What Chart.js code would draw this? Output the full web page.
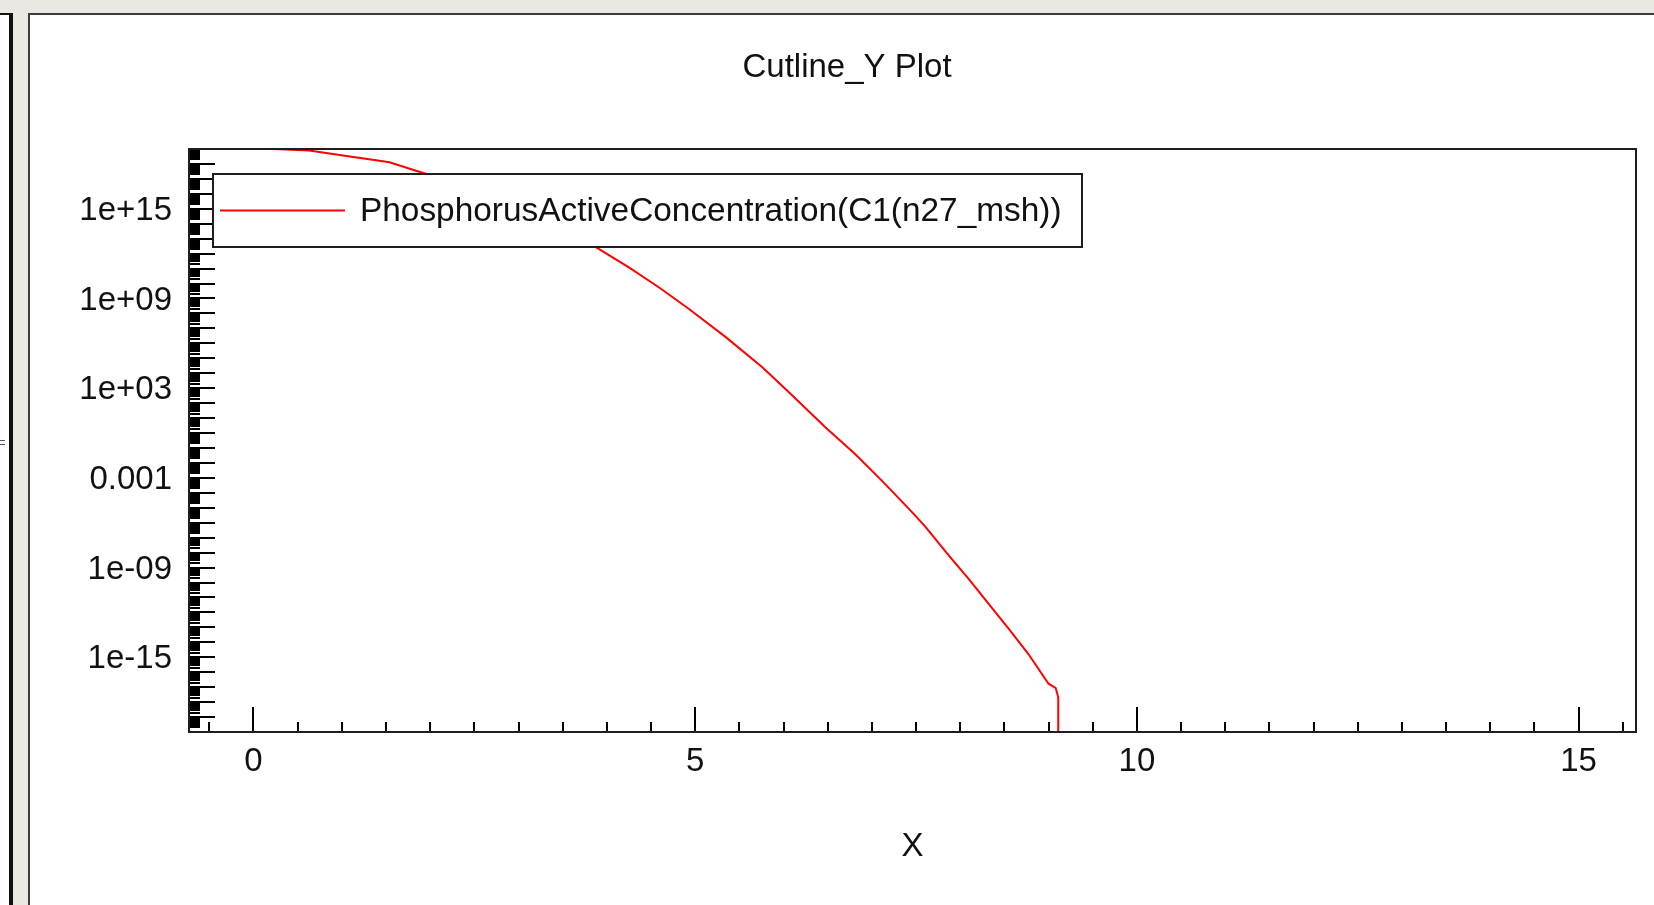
<!DOCTYPE html>
<html>
<head>
<meta charset="utf-8">
<title>Cutline_Y Plot</title>
<script src="https://cdn.jsdelivr.net/npm/chart.js@4/dist/chart.umd.min.js"></script>
<style>
  html, body { margin: 0; padding: 0; }
  body { width: 1654px; height: 905px; background: #ebe8e3; position: relative; overflow: hidden; }
  #side { position: absolute; left: -2px; top: 13px; width: 11px; height: 900px; background: #fff;
          border-top: 2px solid #111; border-right: 4px solid #111; }
  #side .nick { position: absolute; left: 2px; width: 5px; height: 1px; background: #555; }
  #panel { position: absolute; left: 28px; top: 13px; width: 1624px; height: 890px; background: #fff;
           border-left: 2px solid #3c3c3c; border-top: 2px solid #3c3c3c; }
  #chart { display: block; }
</style>
</head>
<body>
<div id="side"><div class="nick" style="top:425px"></div><div class="nick" style="top:429px"></div></div>
<div id="panel"><canvas id="chart" width="1624" height="890"></canvas></div>
<script>
// Cutline data (x in um, concentration in cm^-3)
const seriesName = "PhosphorusActiveConcentration(C1(n27_msh))";
const xValues = [0, 0.3, 0.63, 0.88, 1.09, 1.27, 1.54, 1.84, 2.2, 2.6, 3.0, 3.5, 3.88, 4.25, 4.6, 4.93,
  5.35, 5.76, 6.1, 6.47, 6.81, 7.11, 7.42, 7.6, 7.87, 8.1, 8.32, 8.55, 8.77, 9.0, 9.08, 9.11, 9.11];
const concentration = [1.07e19, 9.5e18, 7.9e18, 4.8e18, 3.2e18, 2.2e18, 1.3e18, 3.5e17, 8e16, 1e16, 9e14, 3.5e13,
  2.6e12, 1.2e11, 5e9, 2e8, 2.5e6, 2.5e4, 3.2e2, 2.5, 4e-2, 6.8e-4, 8.5e-6, 6e-7, 6.5e-9, 1.6e-10, 3.8e-12,
  8e-14, 1.7e-15, 1.7e-17, 9e-18, 2.1e-18, 1e-30];

// axis ticks
const xTickValues = [0, 5, 10, 15];
const xTickLabels = ["0", "5", "10", "15"];
const yTickValues = [1e15, 1e9, 1e3, 1e-3, 1e-9, 1e-15];
const yTickLabels = ["1e+15", "1e+09", "1e+03", "0.001", "1e-09", "1e-15"];

const FONT = { family: "'Liberation Sans', Arial, sans-serif", size: 33 };
const INK = "#111";

// inward tick marks, plot frame and the boxed legend
const frame = {
  id: "frame",
  afterDatasetsDraw(chart) {
    const { ctx, chartArea: a, scales: { x, y } } = chart;
    ctx.save();
    ctx.strokeStyle = "#000";
    ctx.lineWidth = 2;
    ctx.beginPath();
    x.ticks.forEach(t => {
      const px = Math.round(x.getPixelForValue(t.value));
      const len = t.value % 5 === 0 ? 25 : 10;
      ctx.moveTo(px, a.bottom);
      ctx.lineTo(px, a.bottom - len);
    });
    y.ticks.forEach(t => {
      const py = Math.round(y.getPixelForValue(t.value));
      const e = Math.log10(t.value);
      const len = Math.abs(e - Math.round(e)) < 1e-6 ? 26 : 11;
      ctx.moveTo(a.left, py);
      ctx.lineTo(a.left + len, py);
    });
    ctx.stroke();

    ctx.strokeStyle = "#1e1e1e";
    ctx.strokeRect(a.left, a.top, a.right - a.left, a.bottom - a.top);

    // legend
    const ds = chart.data.datasets[0];
    const lx = a.left + 24, ly = a.top + 25, lw = 869, lh = 73;
    ctx.fillStyle = "#fff";
    ctx.fillRect(lx, ly, lw, lh);
    ctx.strokeStyle = "#1e1e1e";
    ctx.lineWidth = 2;
    ctx.strokeRect(lx, ly, lw, lh);
    ctx.strokeStyle = ds.borderColor;
    ctx.lineWidth = ds.borderWidth;
    ctx.beginPath();
    ctx.moveTo(lx + 7, ly + lh / 2);
    ctx.lineTo(lx + 132, ly + lh / 2);
    ctx.stroke();
    ctx.fillStyle = INK;
    ctx.font = "33.4px " + FONT.family;
    ctx.textBaseline = "middle";
    ctx.fillText(ds.label, lx + 147, ly + lh / 2 + 1);
    ctx.restore();
  }
};

new Chart(document.getElementById("chart"), {
  type: "line",
  data: {
    datasets: [{
      label: seriesName,
      data: xValues.map((v, i) => ({ x: v, y: concentration[i] })),
      borderColor: "#ff0000",
      borderWidth: 2,
      pointRadius: 0,
      tension: 0,
      fill: false
    }]
  },
  options: {
    responsive: false,
    animation: false,
    events: [],
    layout: { padding: { left: 28, right: 18, top: 0, bottom: 0 } },
    plugins: {
      legend: { display: false },
      tooltip: { enabled: false },
      title: {
        display: true,
        text: "Cutline_Y Plot",
        color: INK,
        font: { ...FONT, weight: "normal" },
        padding: { top: 33, bottom: 61.4 }
      }
    },
    scales: {
      x: {
        type: "linear",
        min: -0.73,
        max: 15.65,
        grid: { display: false, drawTicks: false },
        border: { display: false },
        afterBuildTicks(scale) {
          const ticks = [];
          for (let k = Math.ceil(scale.min * 2); k / 2 <= scale.max; k++) ticks.push({ value: k / 2 });
          scale.ticks = ticks;
        },
        afterFit(scale) { scale.height = 173; },
        ticks: {
          autoSkip: false,
          maxRotation: 0,
          padding: 10,
          color: INK,
          font: FONT,
          callback(value) {
            const i = xTickValues.indexOf(value);
            return i < 0 ? "" : xTickLabels[i];
          }
        },
        title: { display: true, text: "X", color: INK, font: FONT, padding: { top: 0, bottom: 38 } }
      },
      y: {
        type: "logarithmic",
        min: 1e-20,
        max: 1e19,
        grid: { display: false, drawTicks: false },
        border: { display: false },
        afterBuildTicks(scale) {
          const ticks = [];
          for (let e = -20; e < 19; e++) {
            for (let m = 1; m <= 9; m++) ticks.push({ value: Number(m + "e" + e) });
          }
          ticks.push({ value: 1e19 });
          scale.ticks = ticks;
        },
        afterFit(scale) { scale.width = 131; },
        ticks: {
          autoSkip: false,
          padding: 17,
          labelOffset: 2,
          color: INK,
          font: FONT,
          callback(value) {
            const i = yTickValues.findIndex(v => Math.abs(v - value) <= v * 1e-9);
            return i < 0 ? "" : yTickLabels[i];
          }
        }
      }
    }
  },
  plugins: [frame]
});
</script>
</body>
</html>
